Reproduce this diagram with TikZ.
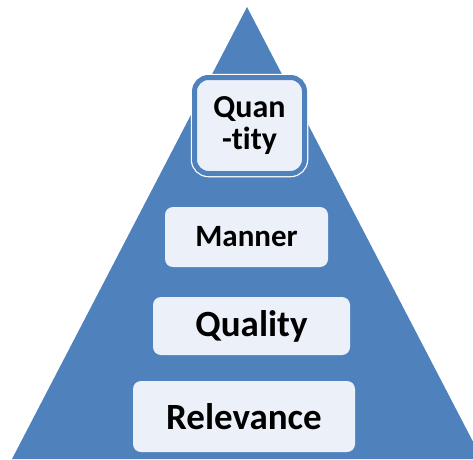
\documentclass[tikz,border=0pt]{standalone}
\usepackage{fontspec}
\setmainfont{Carlito}[Ligatures={NoCommon,NoRare,NoContextual}]
\usetikzlibrary{backgrounds}
\definecolor{pyrblue}{RGB}{79,129,189}
\definecolor{boxfill}{RGB}{236,241,249}
\tikzset{
  level/.style={fill=boxfill, rounded corners=8pt, inner sep=0pt,
    align=center, text=black, font=\bfseries},
  topbox/.style={level, rounded corners=14pt, draw=pyrblue, line width=5pt,
    outer sep=0pt}
}
\begin{document}
\begin{tikzpicture}[x=1pt,y=-1pt]
  \useasboundingbox (0,0) rectangle (473,459);
  % levels, bottom to top
  \node[level, minimum width=222pt, minimum height=71pt,
        font=\bfseries\fontsize{37}{40}\selectfont] (rel) at (244,416.5) {Relevance};
  \node[level, minimum width=197pt, minimum height=58pt,
        font=\bfseries\fontsize{37}{40}\selectfont] (qual) at (251.5,326) {Quality};
  \node[level, minimum width=163pt, minimum height=60pt,
        font=\bfseries\fontsize{31}{33}\selectfont] (man) at (246.5,237) {Manner};
  \node[topbox, minimum width=110pt, minimum height=96pt,
        font=\bfseries\fontsize{32}{32}\selectfont] (quant) at (249.5,125.5) {Quan\\-tity};
  \begin{scope}[on background layer]
    \clip (0,0) rectangle (473,459);
    % pyramid
    \fill[pyrblue] (247,7) -- (12,459) -- (482,459) -- cycle;
    % thin white rim round the top box
    \draw[white, line width=7.5pt, rounded corners=14pt]
      (quant.south west) rectangle (quant.north east);
  \end{scope}
\end{tikzpicture}
\end{document}
